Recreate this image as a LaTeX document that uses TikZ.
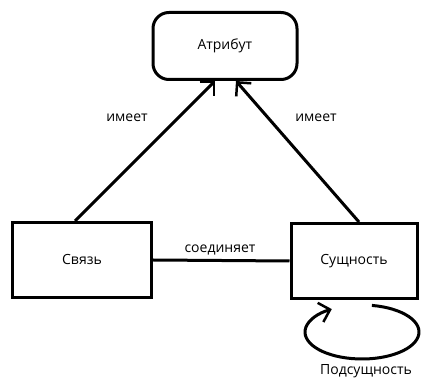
\documentclass[tikz,border=0pt]{standalone}
\usepackage{fontspec}
\setmainfont{Open Sans}
\usetikzlibrary{arrows.meta,positioning}

\begin{document}
\begin{tikzpicture}[x=1pt,y=-1pt,line width=3pt,
        font=\fontsize{14}{16}\selectfont,
        ent/.style={draw,minimum width=#1,minimum height=75pt,inner sep=0pt},
        arr/.style={-{Straight Barb[length=10pt,width=20pt,line width=2.5pt]}}]
        \useasboundingbox (0,0) rectangle (429,379);
        \node[draw,rounded corners=16pt,minimum width=144pt,minimum height=67pt] (attr) at (225,46) {Атрибут};
        \node[ent=139pt] (svz) at (82,260) {Связь};
        \node[ent=126pt] (sush) at (354,261) {Сущность};
        \node (imL) at (127,118) {имеет};
        \node (imR) at (316,118) {имеет};
        \node (soed) at (220,250) {соединяет};
        \coordinate (loop) at (362,332);
        \node (podsush) at (366,371) {Подсущность};
        
        \draw[arr] ([xshift=-7pt]svz.north) -- ([xshift=-10pt]attr.south);
        \draw[arr] ([xshift=5pt]sush.north) -- ([xshift=11pt]attr.south);
        \draw (svz.east) -- (sush.west);
        \draw[arr] (loop) ++(-80:57 and 27) arc[start angle=-80,end angle=238,x radius=57,y radius=27];
    \end{tikzpicture}
\end{document}
